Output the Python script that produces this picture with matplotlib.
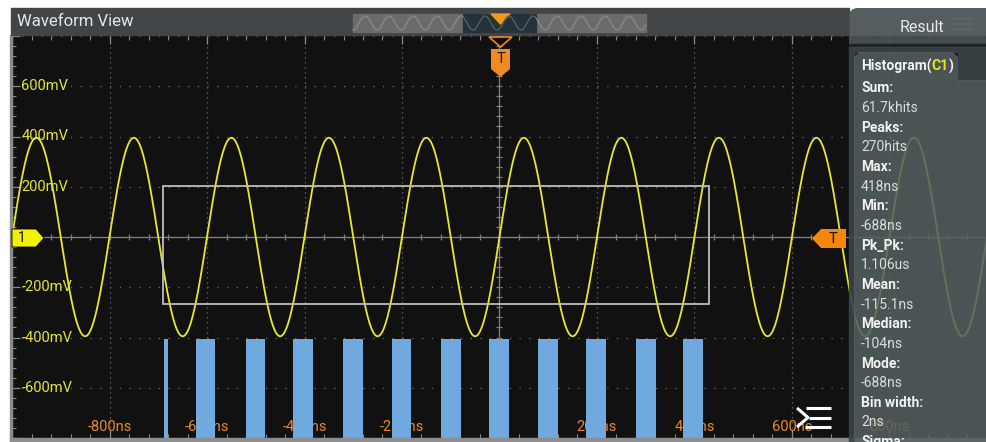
import numpy as np
import matplotlib.pyplot as plt
from matplotlib.patches import Rectangle, Polygon, FancyBboxPatch
from matplotlib.ticker import MultipleLocator

plt.rcParams['font.family'] = ['Roboto', 'DejaVu Sans']
plt.rcParams['lines.scale_dashes'] = False

# CH1 sine (200ns/div, 200mV/div)
wave_amp_mv = 395
wave_period_ns = 200
wave_phase_ns = 0          # rising zero crossing on the trigger

# histogram window drawn on the screen
box_t_ns = [-690, 429]
box_v_mv = [-265, 204]

# time histogram bars (start / end in ns)
bar_start_ns = [-688, -623, -521, -423, -321, -220, -121, -22, 80, 178, 280, 377]
bar_end_ns = [-679, -583, -481, -383, -281, -181, -79, 19, 121, 219, 321, 418]
bar_top_mv = -405

# axis labels
x_label_ns = [-800, -600, -400, -200, 200, 400, 600, 800]
x_label_txt = ['-800ns', '-600ns', '-400ns', '-200ns', '200ns', '400ns', '600ns', '800ns']
y_label_mv = [600, 400, 200, -200, -400, -600]
y_label_txt = ['600mV', '400mV', '200mV', '-200mV', '-400mV', '-600mV']

# result panel
result_names = ['Sum:', 'Peaks:', 'Max:', 'Min:', 'Pk_Pk:', 'Mean:', 'Median:', 'Mode:', 'Bin width:', 'Sigma:']
result_values = ['61.7khits', '270hits', '418ns', '-688ns', '1.106us', '-115.1ns', '-104ns', '-688ns', '2ns', '']

W, H = 987, 442
fig = plt.figure(figsize=(W / 100, H / 100), dpi=100, facecolor='white')

# ---- scope screen ----
ax = fig.add_axes([12 / W, 4 / H, 975 / W, 402 / H])
ax.set_facecolor('#111111')
ax.set_xlim(-1000, 1000)
ax.set_ylim(-800, 800)
ax.xaxis.set_major_locator(MultipleLocator(200))
ax.xaxis.set_minor_locator(MultipleLocator(40))
ax.yaxis.set_major_locator(MultipleLocator(200))
ax.yaxis.set_minor_locator(MultipleLocator(40))
ax.tick_params(which='both', direction='in', colors='#8a8a8a', top=True, bottom=True,
               left=True, right=False, labelbottom=False, labelleft=False)
ax.tick_params(which='major', length=6, width=0.9)
ax.tick_params(which='minor', length=3, width=0.8)
ax.xaxis.grid(True, which='major', color='#6e6e6e', lw=0.9, ls=(0, (0.9, 2.7)))
ax.yaxis.grid(True, which='major', color='#6e6e6e', lw=0.9, ls=(0, (0.9, 6.12)))
for s in ax.spines.values():
    s.set_visible(False)

# center cross with small ticks
ax.axhline(0, color='#848484', lw=0.9, zorder=1)
ax.axvline(0, color='#848484', lw=0.9, zorder=1)
ax.plot(np.arange(-1000, 1001, 40), np.zeros(51), ls='none', marker='|', ms=4, mew=0.9, color='#848484', zorder=1)
ax.plot(np.zeros(41), np.arange(-800, 801, 40), ls='none', marker='_', ms=4, mew=0.9, color='#848484', zorder=1)

# labels
for t, s in zip(x_label_ns, x_label_txt):
    ax.text(t, 0.027, s, transform=ax.get_xaxis_transform(), ha='center', va='center',
            color='#e8892c', fontsize=10.5, zorder=2)
for v, s in zip(y_label_mv, y_label_txt):
    ax.text(0.0097, v, s, transform=ax.get_yaxis_transform(), ha='left', va='center',
            color='#e4e43a', fontsize=10.5, zorder=2)

# waveform
t = np.linspace(-1000, 1000, 3001)
v = wave_amp_mv * np.sin(2 * np.pi * (t - wave_phase_ns) / wave_period_ns)
ax.plot(t, v, color='#e8e830', lw=1.3, zorder=3)

# histogram window
ax.add_patch(Rectangle((box_t_ns[0], box_v_mv[0]), box_t_ns[1] - box_t_ns[0], box_v_mv[1] - box_v_mv[0],
                       fill=False, ec='#bdbdbd', lw=1.3, zorder=3))

# histogram bars
widths = np.array(bar_end_ns) - np.array(bar_start_ns)
ax.bar(bar_start_ns, bar_top_mv + 800, width=widths, bottom=-800, align='edge',
       color='#6fa9de', zorder=4)

# ---- overlay for the UI chrome (pixel coords) ----
ov = fig.add_axes([0, 0, 1, 1], zorder=5)
ov.set_xlim(0, W)
ov.set_ylim(H, 0)
ov.axis('off')
ov.patch.set_alpha(0)

# frame
ov.add_patch(Rectangle((10, 35), 2, 410, color='#8a8a8a'))
ov.add_patch(Rectangle((10, 438), 980, 6, color='#8e8e8e'))

# title bar
ov.add_patch(Rectangle((11, 8), 838, 27, color='#414547'))
ov.text(17, 22, 'Waveform View', color='#e6e6e6', fontsize=12, va='center')

# overview strip
ov.add_patch(Rectangle((353, 13.5), 293, 18.5, color='#6b6b6b'))
ov.add_patch(Rectangle((463, 13.5), 73, 18.5, color='#26323a'))
xs = np.linspace(353, 646, 800)
ys = 23 - 7 * np.cos(2 * np.pi * (xs - 485) / 24)
inside = (xs >= 463) & (xs <= 536)
ov.plot(np.where(inside, np.nan, xs), ys, color='#8c8c8c', lw=0.9)
ov.plot(np.where(inside, xs, np.nan), ys, color='#56646b', lw=0.9)
ov.add_patch(Polygon([(491, 14), (510, 14), (500.5, 24)], color='#f39a1c'))

# trigger position marker
ov.add_patch(Polygon([(489, 37), (512, 37), (500.5, 47)], fc='#111111', ec='#f08a24', lw=1.2))
ov.add_patch(Polygon([(491, 49), (510, 49), (510, 69), (500.5, 77), (491, 69)], fc='#f08a24'))
ov.text(500.5, 59, 'T', color='#1a1a1a', fontsize=10.5, ha='center', va='center')

# channel 1 marker
ov.add_patch(Polygon([(12, 229), (36, 229), (44, 238), (36, 247), (12, 247)], fc='#f2f200', ec='#000000', lw=0.6))
ov.text(22, 238.5, '1', color='#111111', fontsize=10, ha='center', va='center')

# trigger level marker
ov.add_patch(Polygon([(846, 229), (821, 229), (812, 238.5), (821, 248), (846, 248)], fc='#f5870f'))
ov.text(833, 239, 'T', color='#111111', fontsize=10.5, ha='center', va='center')

# menu icon
ov.plot([797, 808, 797], [408, 417.5, 427], color='white', lw=2.2, solid_capstyle='butt')
for yy, x0 in [(408, 806), (417.5, 809), (427, 805)]:
    ov.plot([x0, 831], [yy, yy], color='white', lw=2.2, solid_capstyle='butt')

# ---- result panel ----
clip = Rectangle((849, 8), 140, 36, transform=ov.transData)
head = FancyBboxPatch((849, 8), 160, 80, boxstyle='round,pad=0,rounding_size=9',
                      fc='#485154', ec='none', alpha=0.93)
ov.add_patch(head)
head.set_clip_path(clip)
ov.add_patch(Rectangle((849, 44), 140, 3, color='#1e2224'))
dark = '#3a4345'
ov.add_patch(Rectangle((849, 47), 5, 400, color=dark, alpha=0.9))
ov.add_patch(Rectangle((854, 47), 135, 5, color=dark, alpha=0.9))
ov.add_patch(Rectangle((958, 52), 31, 28, color=dark, alpha=0.9))
ov.add_patch(Polygon([(854, 447), (854, 57), (859, 52), (953, 52), (958, 57), (958, 80), (989, 80), (989, 447)],
                     fc='#555f60', ec='none', alpha=0.87))

ov.text(922, 28, 'Result', color='#e8e8e8', fontsize=11.5, ha='center', va='center')
for yy in [19, 24, 29]:
    ov.plot([953, 973], [yy, yy], color='#5e686b', lw=1.2)

# "Histogram(C1)" with yellow channel name
renderer = fig.canvas.get_renderer()
x = 861
for s, c in [('Histogram(', '#f2f2f2'), ('C1', '#e6e619'), (')', '#f2f2f2')]:
    txt = ov.text(x, 66, s, color=c, fontsize=10, fontweight='bold', va='center')
    bb = txt.get_window_extent(renderer=renderer)
    x = ov.transData.inverted().transform((bb.x1, bb.y0))[0]

for i, (name, val) in enumerate(zip(result_names, result_values)):
    y0 = 88.5 + 39.3 * i
    ov.text(861, y0, name, color='#f2f2f2', fontsize=10, fontweight='bold', va='center')
    if val:
        ov.text(861, y0 + 19.6, val, color='#d9dede', fontsize=10, va='center')

fig.savefig('out.png', dpi=100)
